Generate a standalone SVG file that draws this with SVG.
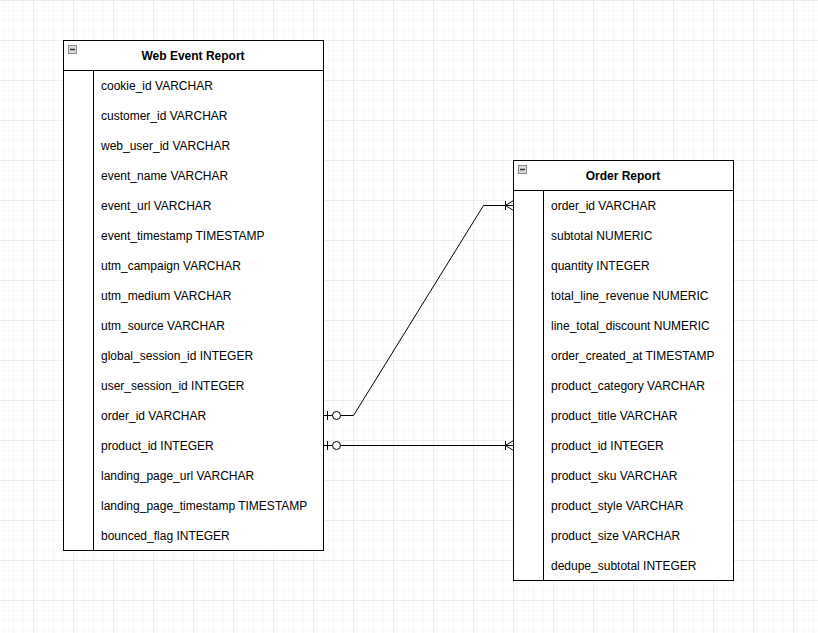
<svg xmlns="http://www.w3.org/2000/svg" width="818" height="633" viewBox="0 0 818 633">
<defs>
<pattern id="minor" width="10" height="10" patternUnits="userSpaceOnUse" x="3" y="0">
<path d="M0 0H10M0 0V10" fill="none" stroke="#f2f2f2" stroke-width="1"/>
</pattern>
<pattern id="major" width="40" height="40" patternUnits="userSpaceOnUse" x="33" y="0">
<path d="M0 0H40M0 0V40" fill="none" stroke="#e2e2e2" stroke-width="1"/>
</pattern>
</defs>
<style>
.tbl{fill:#fff;stroke:#000;stroke-width:1}
.ln{stroke:#000;stroke-width:1;fill:none}
.title{font-family:"Liberation Sans",Arial,sans-serif;font-size:12px;font-weight:bold;fill:#000;text-anchor:middle}
.row{font-family:"Liberation Sans",Arial,sans-serif;font-size:12px;fill:#000}
.ic{fill:#dcdcdc;stroke:#8a8a8a;stroke-width:1}
.icm{stroke:#333;stroke-width:1.5}
</style>
<rect width="818" height="633" fill="#fff"/>
<rect width="818" height="633" fill="url(#minor)"/>
<rect width="818" height="633" fill="url(#major)"/>

<g id="web-event-report">
<rect class="tbl" x="63.5" y="40.5" width="260" height="510"/>
<line class="ln" x1="63.5" y1="70.5" x2="323.5" y2="70.5"/>
<line class="ln" x1="93.5" y1="70.5" x2="93.5" y2="550.5"/>
<rect class="ic" x="68.5" y="45.5" width="8" height="8"/>
<line class="icm" x1="70" y1="49.5" x2="75" y2="49.5"/>
<text class="title" x="193" y="60">Web Event Report</text>
<text class="row" x="101" y="90">cookie_id VARCHAR</text>
<text class="row" x="101" y="120">customer_id VARCHAR</text>
<text class="row" x="101" y="150">web_user_id VARCHAR</text>
<text class="row" x="101" y="180">event_name VARCHAR</text>
<text class="row" x="101" y="210">event_url VARCHAR</text>
<text class="row" x="101" y="240">event_timestamp TIMESTAMP</text>
<text class="row" x="101" y="270">utm_campaign VARCHAR</text>
<text class="row" x="101" y="300">utm_medium VARCHAR</text>
<text class="row" x="101" y="330">utm_source VARCHAR</text>
<text class="row" x="101" y="360">global_session_id INTEGER</text>
<text class="row" x="101" y="390">user_session_id INTEGER</text>
<text class="row" x="101" y="420">order_id VARCHAR</text>
<text class="row" x="101" y="450">product_id INTEGER</text>
<text class="row" x="101" y="480">landing_page_url VARCHAR</text>
<text class="row" x="101" y="510">landing_page_timestamp TIMESTAMP</text>
<text class="row" x="101" y="540">bounced_flag INTEGER</text>
</g>

<g id="order-report">
<rect class="tbl" x="513.5" y="160.5" width="220" height="420"/>
<line class="ln" x1="513.5" y1="190.5" x2="733.5" y2="190.5"/>
<line class="ln" x1="543.5" y1="190.5" x2="543.5" y2="580.5"/>
<rect class="ic" x="518.5" y="165.5" width="8" height="8"/>
<line class="icm" x1="520" y1="169.5" x2="525" y2="169.5"/>
<text class="title" x="623" y="180">Order Report</text>
<text class="row" x="551" y="210">order_id VARCHAR</text>
<text class="row" x="551" y="240">subtotal NUMERIC</text>
<text class="row" x="551" y="270">quantity INTEGER</text>
<text class="row" x="551" y="300">total_line_revenue NUMERIC</text>
<text class="row" x="551" y="330">line_total_discount NUMERIC</text>
<text class="row" x="551" y="360">order_created_at TIMESTAMP</text>
<text class="row" x="551" y="390">product_category VARCHAR</text>
<text class="row" x="551" y="420">product_title VARCHAR</text>
<text class="row" x="551" y="450">product_id INTEGER</text>
<text class="row" x="551" y="480">product_sku VARCHAR</text>
<text class="row" x="551" y="510">product_style VARCHAR</text>
<text class="row" x="551" y="540">product_size VARCHAR</text>
<text class="row" x="551" y="570">dedupe_subtotal INTEGER</text>
</g>

<g id="connectors">
<g id="edge-order-id">
<path class="ln" d="M323.5 415.5H332.5M340.5 415.5H353.5L483.5 205.5H513.5"/>
<line class="ln" x1="327.5" y1="411" x2="327.5" y2="420"/>
<circle class="ln" cx="336.5" cy="415.5" r="4" fill="#fff"/>
<path class="ln" d="M505.5 201V210M513.5 200.5L505.5 205.5L513.5 210.5"/>
</g>
<g id="edge-product-id">
<path class="ln" d="M323.5 445.5H332.5M340.5 445.5H513.5"/>
<line class="ln" x1="327.5" y1="441" x2="327.5" y2="450"/>
<circle class="ln" cx="336.5" cy="445.5" r="4" fill="#fff"/>
<path class="ln" d="M505.5 441V450M513.5 440.5L505.5 445.5L513.5 450.5"/>
</g>
</g>
</svg>
